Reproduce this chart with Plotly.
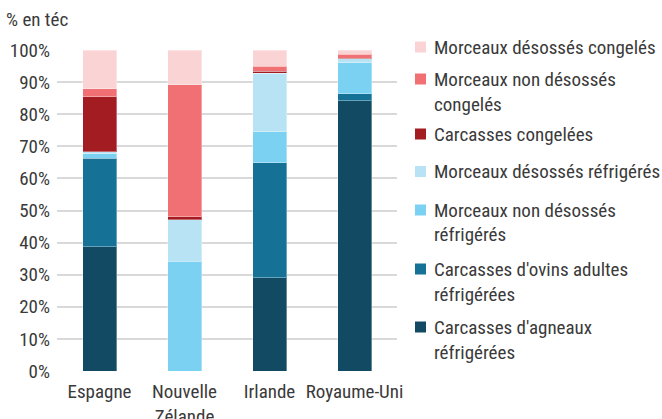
import plotly.graph_objects as go

categories = ["Espagne", "Nouvelle<br>Zélande", "Irlande", "Royaume-Uni"]

series_names = [
    "Carcasses d'agneaux<br>réfrigérées",
    "Carcasses d'ovins adultes<br>réfrigérées",
    "Morceaux non désossés<br>réfrigérés",
    "Morceaux désossés réfrigérés",
    "Carcasses congelées",
    "Morceaux non désossés<br>congelés",
    "Morceaux désossés congelés",
]
agneaux_refrig = [38.7, 0.0, 29.0, 84.2]
ovins_refrig = [27.6, 0.0, 35.9, 2.1]
non_desosses_refrig = [1.4, 34.2, 9.6, 9.7]
desosses_refrig = [0.6, 12.9, 18.3, 1.2]
carcasses_congelees = [17.1, 1.0, 0.6, 0.2]
non_desosses_congeles = [2.6, 41.0, 1.6, 1.3]
desosses_congeles = [12.0, 10.9, 5.0, 1.3]

series_values = [agneaux_refrig, ovins_refrig, non_desosses_refrig, desosses_refrig,
                 carcasses_congelees, non_desosses_congeles, desosses_congeles]
colors = ["#124a63", "#157196", "#7ad1f2", "#b8e3f5", "#a31c22", "#f07073", "#fad3d4"]

tick_vals = [0, 10, 20, 30, 40, 50, 60, 70, 80, 90, 100]
tick_text = [f"{v}%" for v in tick_vals]

FONT = "Roboto Condensed, Liberation Sans Narrow, sans-serif"
TXT = "#3a3a3a"
FS = 19

W, H = 662, 419
ML, MR, MT, MB = 57, 265, 50, 48
PW, PH = W - ML - MR, H - MT - MB


def px_x(px):
    return (px - ML) / PW


def px_y(py):
    return (H - MB - py) / PH


fig = go.Figure()
for name, vals, col in zip(series_names, series_values, colors):
    fig.add_trace(go.Bar(
        x=categories, y=vals, name=name,
        marker=dict(color=col, line=dict(color="rgba(255,255,255,0.35)", width=1)),
        showlegend=False,
    ))

# Manual legend (top item = last series)
legend_square_y = [327, 269, 210, 171.5, 134, 79, 47]  # per series, in order of series_names
line_gap = 25
shapes = []
annotations = []
for name, col, sy in zip(series_names, colors, legend_square_y):
    shapes.append(dict(type="rect", xref="paper", yref="paper",
                       x0=px_x(415), x1=px_x(426), y0=px_y(sy + 5.5), y1=px_y(sy - 5.5),
                       fillcolor=col, line=dict(width=0)))
    for k, line in enumerate(name.split("<br>")):
        annotations.append(dict(text=line, xref="paper", yref="paper",
                                x=px_x(432), y=px_y(sy + k * line_gap),
                                xanchor="left", yanchor="middle", showarrow=False,
                                font=dict(family=FONT, size=FS, color=TXT)))

annotations.append(dict(text="% en téc", xref="paper", yref="paper",
                        x=px_x(4), y=px_y(20), xanchor="left", yanchor="middle",
                        showarrow=False, font=dict(family=FONT, size=FS, color=TXT)))

fig.update_layout(
    barmode="stack",
    bargap=0.6,
    width=W, height=H,
    margin=dict(l=ML, r=MR, t=MT, b=MB, autoexpand=False),
    plot_bgcolor="white", paper_bgcolor="white",
    font=dict(family=FONT, size=FS, color=TXT),
    showlegend=False,
    shapes=shapes,
    annotations=annotations,
)
fig.update_yaxes(
    range=[0, 100], tickvals=tick_vals, ticktext=tick_text,
    showgrid=True, gridcolor="#d9d9d9", gridwidth=1.5,
    zeroline=False, showline=False, ticks="", ticklabelstandoff=6,
)
fig.update_xaxes(showline=False, ticks="", showgrid=False, ticklabelstandoff=7)

fig.write_html("out.html", config={"displayModeBar": False},
               post_script="document.body.style.margin='0px';document.body.style.overflow='hidden';")
